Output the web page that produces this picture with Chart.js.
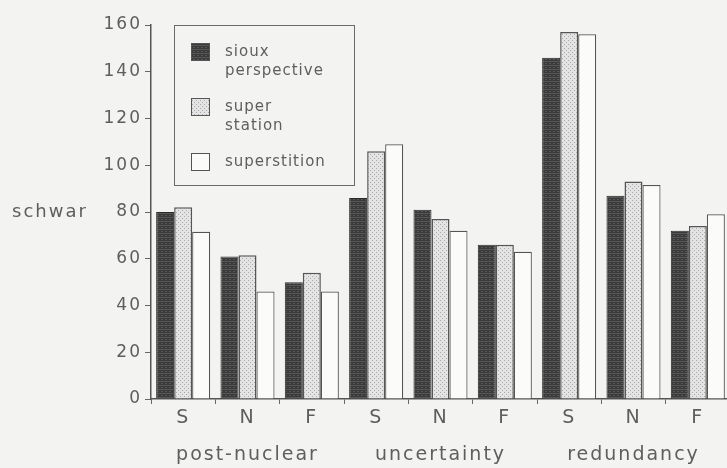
<!DOCTYPE html>
<html>
<head>
<meta charset="utf-8">
<script src="https://cdn.jsdelivr.net/npm/chart.js@4.4.1/dist/chart.umd.min.js"></script>
<style>
  html, body { margin: 0; padding: 0; background: #f3f3f1; overflow: hidden; }
  #wrap { width: 735px; height: 468px; }
</style>
</head>
<body>
<div id="wrap"><canvas id="chart"></canvas></div>
<script>
const categorias = ["S", "N", "F", "S", "N", "F", "S", "N", "F"];
const grupos = ["", "post-nuclear", "", "", "uncertainty", "", "", "redundancy", ""];

const sioux = [80, 61, 50, 86, 81, 66, 146, 87, 72];
const superStation = [82, 61.5, 54, 106, 77, 66, 157, 93, 74];
const superstition = [71.5, 46, 46, 109, 72, 63, 156, 91.5, 79];

const nombres = ["sioux perspective", "super station", "superstition"];
const leyenda = [["sioux", "perspective"], ["super", "station"], ["superstition"]];

const fuente = "'DejaVu Sans', sans-serif";
const gris = '#5e5e5e';

// patrones tipo plotter
function patron(fondo, tinta, tipo) {
  const c = document.createElement('canvas');
  c.width = 4; c.height = 4;
  const g = c.getContext('2d');
  g.fillStyle = fondo;
  g.fillRect(0, 0, 4, 4);
  g.fillStyle = tinta;
  if (tipo === 'rayas') {
    g.fillRect(0, 1, 4, 1);
    g.fillRect(1, 3, 2, 1);
  } else {
    g.fillRect(0, 0, 1, 1);
    g.fillRect(2, 2, 1, 1);
  }
  return g.createPattern(c, 'repeat');
}

const oscuro = patron('#3a3a3a', '#575757', 'rayas');
const punteado = patron('#e4e4e4', '#a8a8a8', 'puntos');
const blanco = '#fbfbfa';
const rellenos = [oscuro, punteado, blanco];

// leyenda en recuadro y rotulo "schwar"
const extras = {
  id: 'extras',
  beforeDraw(chart) {
    chart.ctx.letterSpacing = '2px';
  },
  afterDraw(chart) {
    const ctx = chart.ctx;
    const y = chart.scales.y;
    ctx.save();
    ctx.letterSpacing = '2px';
    ctx.font = '18px ' + fuente;
    ctx.fillStyle = gris;
    ctx.textAlign = 'left';
    ctx.textBaseline = 'middle';
    ctx.fillText('schwar', 12, y.getPixelForValue(80));

    // recuadro
    ctx.fillStyle = '#f3f3f1';
    ctx.fillRect(174, 25, 180, 160);
    ctx.strokeStyle = '#6a6a6a';
    ctx.lineWidth = 1;
    ctx.strokeRect(174.5, 25.5, 180, 160);

    const tops = [43, 98, 153];
    ctx.letterSpacing = '1px';
    ctx.font = '15px ' + fuente;
    leyenda.forEach((lineas, i) => {
      ctx.fillStyle = rellenos[i];
      ctx.fillRect(191, tops[i], 18, 17);
      ctx.strokeStyle = '#555';
      ctx.strokeRect(191.5, tops[i] + 0.5, 18, 17);
      ctx.fillStyle = gris;
      lineas.forEach((t, k) => {
        ctx.fillText(t, 225, tops[i] + 9 + k * 19);
      });
    });
    ctx.restore();
  }
};

new Chart(document.getElementById('chart'), {
  type: 'bar',
  data: {
    labels: categorias.map((c, i) => [c, grupos[i]]),
    datasets: [
      { label: nombres[0], data: sioux, backgroundColor: oscuro, borderColor: '#2a2a2a', borderWidth: 1 },
      { label: nombres[1], data: superStation, backgroundColor: punteado, borderColor: '#555', borderWidth: 1.5 },
      { label: nombres[2], data: superstition, backgroundColor: blanco, borderColor: '#555', borderWidth: 1.2 }
    ]
  },
  options: {
    responsive: true,
    maintainAspectRatio: false,
    animation: false,
    layout: { padding: { top: 25, right: 5, bottom: 0, left: 0 } },
    datasets: { bar: { categoryPercentage: 0.84, barPercentage: 1.0 } },
    plugins: { legend: { display: false }, tooltip: { enabled: false } },
    scales: {
      x: {
        grid: { drawOnChartArea: false, tickLength: 5, color: '#666' },
        border: { color: '#555', width: 1.5 },
        ticks: { color: gris, font: { family: fuente, size: 19, lineHeight: 1.97 }, padding: -5, maxRotation: 0, autoSkip: false },
        afterFit(s) { s.height = 69; }
      },
      y: {
        min: 0,
        max: 160,
        grid: { drawOnChartArea: false, tickLength: 6, color: '#666' },
        border: { color: '#555', width: 1.5 },
        ticks: { stepSize: 20, color: gris, font: { family: fuente, size: 17 }, padding: 3 },
        afterFit(s) { s.width = 151; }
      }
    }
  },
  plugins: [extras]
});
</script>
</body>
</html>
